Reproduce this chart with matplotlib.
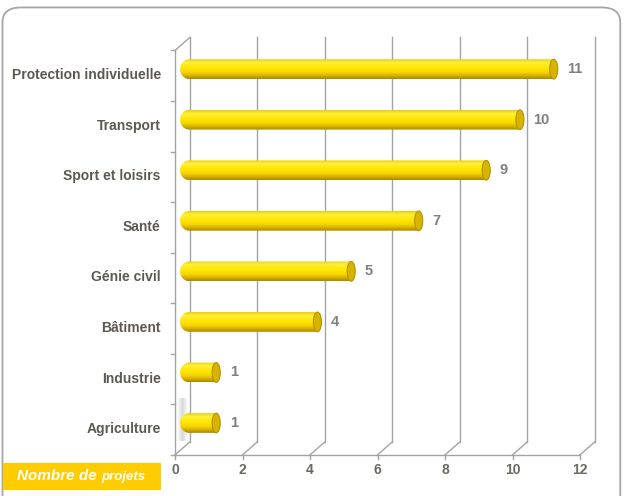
import numpy as np
import matplotlib
matplotlib.use("Agg")
from matplotlib import pyplot as plt
from matplotlib.path import Path
from matplotlib.patches import PathPatch, Ellipse, Rectangle, FancyBboxPatch
from matplotlib.colors import LinearSegmentedColormap

categories = ["Agriculture", "Industrie", "Bâtiment", "Génie civil", "Santé",
              "Sport et loisirs", "Transport", "Protection individuelle"]
values = [1, 1, 4, 5, 7, 9, 10, 11]
x_ticks = [0, 2, 4, 6, 8, 10, 12]
axis_title = ("Nombre de", "projets")

FONT = ["Liberation Sans Narrow", "Liberation Sans", "DejaVu Sans"]
GRID = "#a3a3a3"

# 3D look: back wall offset and bar depth
dx, dy = 0.44, 0.257
front_lo, front_hi = -0.63, len(categories) - 0.5 - 0.13
bar_h = 0.39

fig = plt.figure(figsize=(6.24, 4.96), dpi=100)
ax = fig.add_axes([175 / 624, 0.0829, 405 / 624, 0.849])
ax.set_xlim(0, 12)
ax.set_ylim(front_lo, 7.7)
ax.axis("off")

# outer rounded frame
frame = FancyBboxPatch((0.004, -0.03), 0.99, 1.015,
                       boxstyle="round,pad=0,rounding_size=0.03",
                       transform=fig.transFigure, fill=False,
                       edgecolor="#a6a6a6", lw=1.3, clip_on=False)
fig.patches.append(frame)

# back wall gridlines + floor diagonals
for v in x_ticks:
    ax.plot([v + dx, v + dx], [front_lo + dy, front_hi + dy], color=GRID, lw=1, clip_on=False, zorder=1)
    ax.plot([v, v + dx], [front_lo, front_lo + dy], color=GRID, lw=1, clip_on=False, zorder=1)
    ax.plot([v, v], [front_lo, front_lo - 0.08], color=GRID, lw=1, clip_on=False)
    ax.text(v, front_lo - 0.17, str(v), ha="center", va="top", fontsize=10,
            fontweight="bold", color="#6e6862", family=FONT)

# floor front edge, left front edge and top diagonal
ax.plot([0, 12], [front_lo, front_lo], color=GRID, lw=1, clip_on=False)
ax.plot([0, 0], [front_lo, front_hi], color=GRID, lw=1, clip_on=False)
ax.plot([0, dx], [front_hi, front_hi + dy], color=GRID, lw=1, clip_on=False)
for k in range(len(categories) + 1):
    yb = k - 0.5 - 0.13
    ax.plot([-0.12, 0], [yb, yb], color=GRID, lw=1, clip_on=False)

# faint shadow on the wall next to the lowest bar
shade = LinearSegmentedColormap.from_list("shade", ["#ffffff", "#cfcfcf", "#ffffff"])
ax.imshow(np.linspace(0, 1, 32).reshape(1, -1), cmap=shade, aspect="auto",
          extent=[0.06, 0.36, -0.35, 0.5], zorder=2, alpha=0.8)

# gradient for the cylinders
cmap = LinearSegmentedColormap.from_list(
    "cyl", ["#a88a00", "#d8b000", "#f5d500", "#ffe300", "#ffea10", "#fff040", "#eccd00"])
grad = np.linspace(0, 1, 64).reshape(-1, 1)

t = np.linspace(np.pi / 2, 3 * np.pi / 2, 30)
for i, (cat, v) in enumerate(zip(categories, values)):
    lcap, rcap = 0.27, 0.12
    x0, x1 = 0.15 + lcap, v + dx / 2
    # left rounded end + body + right rounded end
    left = np.column_stack([x0 + lcap * np.cos(t), i + bar_h / 2 * np.sin(t)])
    right = np.column_stack([x1 - rcap * np.cos(t), i - bar_h / 2 * np.sin(t)])
    verts = np.vstack([left, right, left[:1]])
    shape = PathPatch(Path(verts), facecolor="none", edgecolor="none")
    ax.add_patch(shape)
    im = ax.imshow(grad, cmap=cmap, aspect="auto", origin="lower",
                   extent=[x0 - lcap, x1 + rcap, i - bar_h / 2, i + bar_h / 2], zorder=3)
    im.set_clip_path(shape)
    ax.add_patch(Ellipse((x1, i), 2 * rcap, bar_h, facecolor="#d8b400",
                         edgecolor="#b39400", lw=0.8, zorder=4))
    ax.text(v + 0.62, i, str(v), ha="left", va="center", fontsize=10.5,
            fontweight="bold", color="#7f7f7f", family=FONT, zorder=5)
    ax.text(-0.42, i - 0.12, cat, ha="right", va="center", fontsize=10,
            fontweight="bold", color="#5e5852", family=FONT)

# title box bottom-left
fig.patches.append(Rectangle((3 / 624, 6 / 496), 158 / 624, 27 / 496,
                             transform=fig.transFigure, facecolor="#ffcc00",
                             edgecolor="none"))
fig.text(17 / 624, 19.5 / 496, axis_title[0], ha="left", va="center", color="white",
         fontsize=11, fontstyle="italic", fontweight="bold", family=FONT)
fig.text(101 / 624, 19 / 496, axis_title[1], ha="left", va="center", color="white",
         fontsize=9.5, fontstyle="italic", fontweight="bold", family=FONT)

fig.savefig("out.png", dpi=100)
